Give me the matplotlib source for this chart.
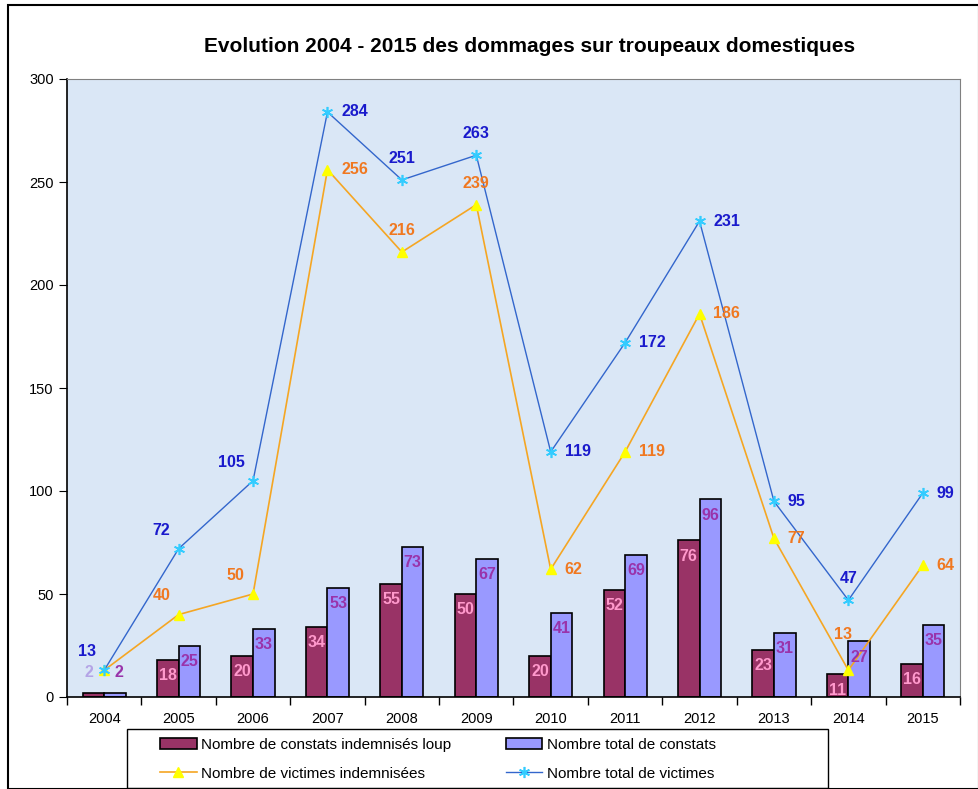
"""
Evolution 2004 - 2015 des dommages sur troupeaux domestiques
Barres (constats) + courbes (victimes), style Excel.
"""

import numpy as np
import matplotlib.pyplot as plt
from matplotlib.patches import Rectangle

years = ["2004", "2005", "2006", "2007", "2008", "2009",
         "2010", "2011", "2012", "2013", "2014", "2015"]
constats_loup = [2, 18, 20, 34, 55, 50, 20, 52, 76, 23, 11, 16]
constats_total = [2, 25, 33, 53, 73, 67, 41, 69, 96, 31, 27, 35]
victimes_indemnisees = [13, 40, 50, 256, 216, 239, 62, 119, 186, 77, 13, 64]
victimes_total = [13, 72, 105, 284, 251, 263, 119, 172, 231, 95, 47, 99]

# position des étiquettes des courbes : "r" = à droite, "a" = au-dessus,
# "al" = au-dessus à gauche, "aa" = nettement au-dessus
pos_total = ["al", "al", "al", "r", "a", "a", "r", "r", "r", "r", "a", "r"]
pos_indemn = [None, "al", "al", "r", "a", "a", "r", "r", "r", "r", "aa", "r"]

OFFSETS = {"r": (10, 0, "left", "center"),
           "a": (0, 10, "center", "bottom"),
           "aa": (-4, 20, "center", "bottom"),
           "al": (-6, 8, "right", "bottom")}

plt.rcParams["font.family"] = ["Liberation Sans", "DejaVu Sans"]

fig = plt.figure(figsize=(9.79, 7.89), dpi=100)
ax = fig.add_axes([67 / 979, 92 / 789, 893 / 979, 618 / 789])
ax.set_facecolor("#dae7f6")

x = np.arange(len(years))
w = 0.29

ax.bar(x - w / 2, constats_loup, width=w, color="#993366", edgecolor="black",
       linewidth=1.2, label="Nombre de constats indemnisés loup", zorder=2)
ax.bar(x + w / 2, constats_total, width=w, color="#9999ff", edgecolor="black",
       linewidth=1.2, label="Nombre total de constats", zorder=2)

ax.plot(x, victimes_indemnisees, color="#f5a623", linewidth=1.2, marker="^",
        markersize=7, markerfacecolor="#ffff00", markeredgecolor="#ffff00",
        label="Nombre de victimes indemnisées", zorder=3)
ax.plot(x, victimes_total, color="#3366cc", linewidth=1.0, marker=(6, 2, 0),
        markersize=8, markeredgecolor="#33ccff", markeredgewidth=1.2,
        label="Nombre total de victimes", zorder=3)

# étiquettes des barres (à l'intérieur, en haut ; au-dessus si la barre est trop basse)
for i in range(len(years)):
    for xb, val, col, side in [(x[i] - w / 2, constats_loup[i], "#ff99cc", -1),
                               (x[i] + w / 2, constats_total[i], "#9933aa", 1)]:
        if val < 5:
            dx, dy, va = 3 * side, 9, "bottom"
            col = "#b4a4e6" if col == "#ff99cc" else col
        else:
            dx, dy, va = 0, -6, "top"
        ax.annotate(str(val), (xb, val), xytext=(dx, dy), textcoords="offset points",
                    ha="center", va=va, fontsize=11.5, fontweight="bold",
                    color=col, zorder=4)

# étiquettes des courbes
for i in range(len(years)):
    dx, dy, ha, va = OFFSETS[pos_total[i]]
    ax.annotate(str(victimes_total[i]), (x[i], victimes_total[i]),
                xytext=(dx, dy), textcoords="offset points", ha=ha, va=va,
                fontsize=11.5, fontweight="bold", color="#1a1acc", zorder=4)
    if pos_indemn[i] is not None:
        dx, dy, ha, va = OFFSETS[pos_indemn[i]]
        ax.annotate(str(victimes_indemnisees[i]), (x[i], victimes_indemnisees[i]),
                    xytext=(dx, dy), textcoords="offset points", ha=ha, va=va,
                    fontsize=11.5, fontweight="bold", color="#f07820", zorder=4)

ax.set_xlim(-0.5, len(years) - 0.5)
ax.set_ylim(0, 300)
ax.set_yticks(range(0, 301, 50))
ax.set_xticks(x)
ax.set_xticklabels(years, fontsize=10.5)
ax.set_xticks(np.arange(-0.5, len(years), 1.0), minor=True)
ax.tick_params(axis="x", which="major", length=0, pad=11)
ax.tick_params(axis="x", which="minor", length=6, direction="out", width=1)
ax.tick_params(axis="y", length=6, direction="out", labelsize=10.5)

for side in ["top", "right"]:
    ax.spines[side].set_color("#808080")
for side in ["left", "bottom"]:
    ax.spines[side].set_color("black")
    ax.spines[side].set_linewidth(1.2)

fig.text(0.541, 0.941, "Evolution 2004 - 2015 des dommages sur troupeaux domestiques",
         ha="center", va="center", fontsize=15, fontweight="bold")

# cadre de la légende
fig.patches.append(Rectangle((127 / 979, 1 / 789), 701 / 979, 59 / 789,
                             transform=fig.transFigure, fill=False,
                             edgecolor="black", linewidth=1.0))

handles, labels = ax.get_legend_handles_labels()
# ordre : ligne 1 = barres, ligne 2 = courbes (remplissage par colonnes)
order = [2, 0, 3, 1]
leg = fig.legend([handles[i] for i in order], [labels[i] for i in order],
                 ncol=2, loc="upper left",
                 bbox_to_anchor=(160 / 979, 51 / 789),
                 fontsize=11, frameon=False, borderpad=0, borderaxespad=0,
                 handlelength=2.4, handletextpad=0.3,
                 labelspacing=0.95, columnspacing=3.55)

fig.patches.append(Rectangle((8 / 979, 0.0), 971 / 979, 784 / 789,
                             transform=fig.transFigure, fill=False,
                             edgecolor="black", linewidth=1.5))

fig.savefig("out.png", dpi=100)
